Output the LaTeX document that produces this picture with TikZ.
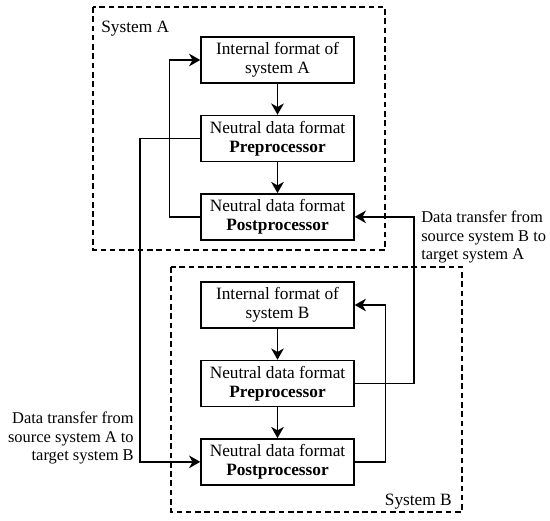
\documentclass[tikz,border=0pt]{standalone}
\usepackage{fontspec}
\setmainfont{Liberation Serif}
\usetikzlibrary{arrows.meta,positioning}

\begin{document}
\begin{tikzpicture}[x=0.025cm, y=-0.025cm,
                    >={Stealth[length=8pt,width=9pt,inset=2.5pt]},
                    node distance = 0.775cm,
                    every node/.append style = {font=\fontsize{12.3}{13.4}\selectfont},
                    blk/.style = {draw, line width=1pt, align=center, inner sep=2pt,
                                  minimum width=3.825cm, minimum height=1.15cm},
                    frame/.style = {draw, dash pattern=on 4pt off 2.6pt, line width=1pt},
                    conn/.style = {->, line width=1pt},
                    lbl/.style = {inner sep=0pt},
                    side/.style = {lbl, font=\fontsize{11.7}{13.4}\selectfont}
                    ]
\useasboundingbox (0,0) rectangle (550,520);

% system A
\draw[frame] (93,7) rectangle (385,250);
\node[lbl, anchor=base west] (sysA) at (101,32) {System A};

\node[blk]               (intA) at (277.5,60) {Internal format of\\system A};
\node[blk, below=of intA] (preA) {Neutral data format\\\textbf{Preprocessor}};
\node[blk, below=of preA] (postA) {Neutral data format\\\textbf{Postprocessor}};

% system B
\draw[frame] (171,267) rectangle (462,512);
\node[lbl, anchor=base east] (sysB) at (452,505) {System B};

\node[blk]               (intB) at (277.5,305) {Internal format of\\system B};
\node[blk, below=of intB] (preB) {Neutral data format\\\textbf{Preprocessor}};
\node[blk, below=of preB] (postB) {Neutral data format\\\textbf{Postprocessor}};

% transfer lines
\coordinate (xferA) at (140,300);
\coordinate (xferB) at (414,300);

\node[side, align=right, anchor=east] (lblA) at (134,438)
     {Data transfer from\\source system A to\\target system B};
\node[side, align=left, anchor=west]  (lblB) at (421,237)
     {Data transfer from\\source system B to\\target system A};

\draw[conn] (intA) -- (preA);
\draw[conn] (preA) -- (postA);
\draw[conn] (intB) -- (preB);
\draw[conn] (preB) -- (postB);

\draw[conn] (postA.west) -- ++(-31,0) |- (intA.west);
\draw[conn] (postB.east) -- ++(31,0) |- (intB.east);

\draw[conn] (preA.west) -| (xferA) |- (postB.west);
\draw[conn] (preB.east) -| (xferB) |- (postA.east);
\end{tikzpicture}
\end{document}
